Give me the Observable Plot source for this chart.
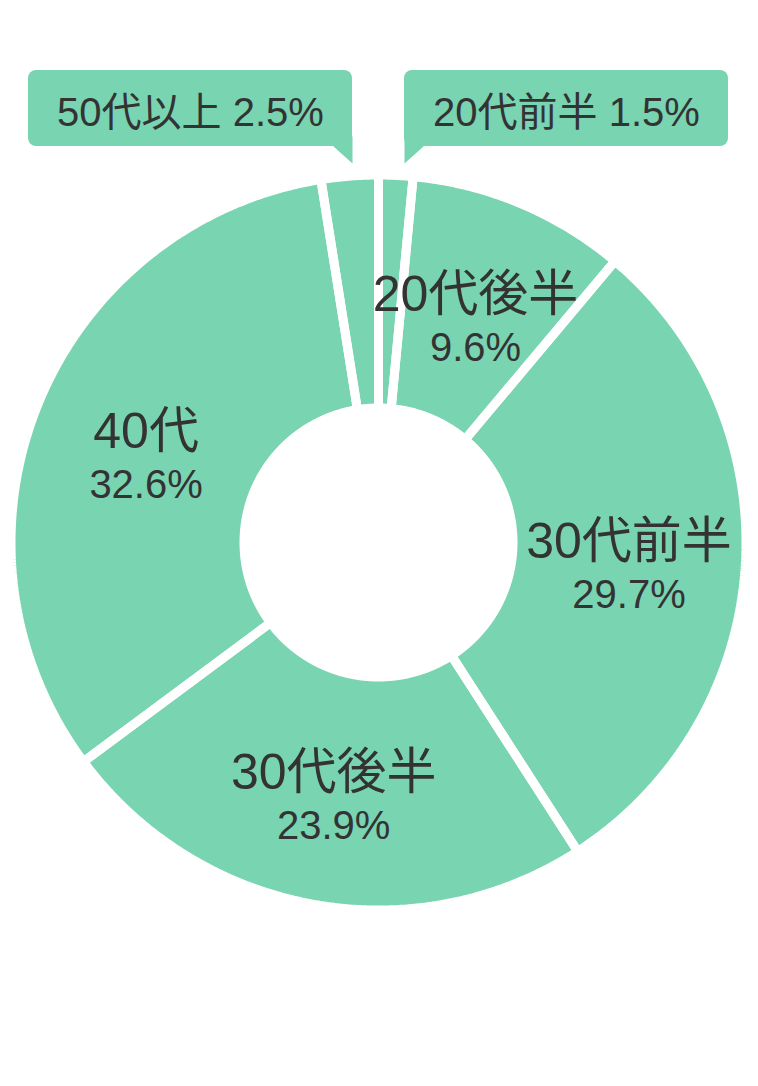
<!DOCTYPE html>
<html><head><meta charset="utf-8">
<script src="https://cdn.jsdelivr.net/npm/d3@7"></script>
<script src="https://cdn.jsdelivr.net/npm/@observablehq/plot@0.6"></script>
<style>html,body{margin:0;padding:0;background:#fff;} #chart svg{display:block;}</style>
</head><body><div id="chart"></div>
<script>
// ---- data ----
const categories = ["20代前半", "20代後半", "30代前半", "30代後半", "40代", "50代以上"];
const values = [1.5, 9.6, 29.7, 23.9, 32.6, 2.5];
const percentLabels = ["1.5%", "9.6%", "29.7%", "23.9%", "32.6%", "2.5%"];

// ---- layout ----
const W = 758, H = 1086;
const cx = 378, cy = 542;           // donut centre in pixels
const R = 367.5, r0 = 134.5;        // outer / inner radius (geometric)
const gap = 9;                      // white separator width
const green = "#79d4b2", ink = "#333333";
const font = "'Liberation Sans', 'Noto Sans CJK JP', sans-serif";
const labelR = 251;

const slices = d3.pie().sort(null).value(d => d.value)(
  categories.map((name, i) => ({name, value: values[i], label: percentLabels[i]}))
);

// polygon outline for each annular slice (data units = pixels, y up)
const pts = [];
slices.forEach(s => {
  const a0 = s.startAngle, a1 = s.endAngle;
  const n = Math.max(10, Math.ceil((a1 - a0) * 140));
  const ring = [];
  for (let k = 0; k <= n; k++) { const a = a0 + (a1 - a0) * k / n; ring.push([R * Math.sin(a), R * Math.cos(a)]); }
  for (let k = n; k >= 0; k--) { const a = a0 + (a1 - a0) * k / n; ring.push([r0 * Math.sin(a), r0 * Math.cos(a)]); }
  ring.push(ring[0]);
  ring.forEach(([x, y]) => pts.push({slice: s.data.name, x, y}));
});

const big = slices.filter(s => s.data.value >= 5).map(s => {
  const m = (s.startAngle + s.endAngle) / 2;
  return {name: s.data.name, label: s.data.label, x: labelR * Math.sin(m), y: labelR * Math.cos(m)};
});

// callouts for small slices
const boxIn = 26, boxOut = 350, boxBot = 396, boxTop = 472, tipY = 379, tipW = 19;
const small = slices.filter(s => s.data.value < 5).map(s => {
  const m = (s.startAngle + s.endAngle) / 2;
  const side = Math.sin(m) >= 0 ? 1 : -1;
  return {name: s.data.name, text: `${s.data.name} ${s.data.label}`, side,
    x1: side * boxIn, x2: side * boxOut, y1: boxBot, y2: boxTop,
    tx: side * (boxIn + boxOut) / 2, ty: (boxBot + boxTop) / 2};
});
const pointerPts = [];
small.forEach(c => {
  const s = c.side;
  [[s * boxIn, boxBot + 10], [s * boxIn, tipY], [s * (boxIn + tipW), boxBot], [s * (boxIn + tipW), boxBot + 10], [s * boxIn, boxBot + 10]]
    .forEach(([x, y]) => pointerPts.push({name: c.name, x, y}));
});

const chart = Plot.plot({
  width: W, height: H,
  margin: 0,
  x: {domain: [-cx, W - cx], range: [0, W], axis: null},
  y: {domain: [-(H - cy), cy], range: [H, 0], axis: null},
  style: {fontFamily: font, background: "#fff"},
  marks: [
    Plot.line(pts, {x: "x", y: "y", z: "slice", fill: green, stroke: "none", curve: "linear"}),
    Plot.line(pts, {x: "x", y: "y", z: "slice", fill: "none", stroke: "#ffffff", strokeWidth: gap, strokeLinejoin: "miter", curve: "linear"}),
    Plot.text(big, {x: "x", y: "y", text: "name", fontSize: 50, fill: ink, dy: -16, fontFamily: font}),
    Plot.text(big, {x: "x", y: "y", text: "label", fontSize: 40, fill: ink, dy: 37, fontFamily: font}),
    Plot.rect(small, {x1: "x1", x2: "x2", y1: "y1", y2: "y2", fill: green, rx: 8}),
    Plot.line(pointerPts, {x: "x", y: "y", z: "name", fill: green, stroke: "none", curve: "linear"}),
    Plot.text(small, {x: "tx", y: "ty", text: "text", fontSize: 40, fill: ink, dy: 5, fontFamily: font})
  ]
});
document.getElementById("chart").appendChild(chart);
</script>
</body></html>
